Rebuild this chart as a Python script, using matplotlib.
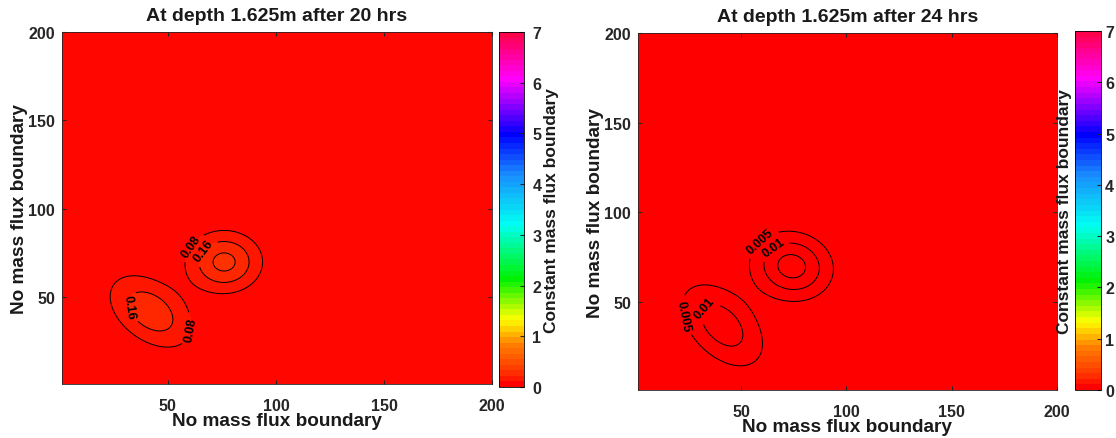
import numpy as np
import matplotlib.pyplot as plt
from matplotlib.colors import LinearSegmentedColormap, Normalize
from matplotlib.cm import ScalarMappable

plt.rcParams['font.family'] = ['Liberation Sans', 'DejaVu Sans']
plt.rcParams['font.weight'] = 'bold'

# grille 200 x 200 du domaine
n = 200
x = np.arange(1, n + 1)
X, Y = np.meshgrid(x, x)

# deux panaches : centres, amplitudes, largeurs (sx, sy) et angle (deg)
titres = ['At depth 1.625m after 20 hrs', 'At depth 1.625m after 24 hrs']
centres = [[(76, 70), (42, 42)], [(74, 70), (41, 37)]]
amplitudes = [[0.265, 0.215], [0.0172, 0.0128]]
largeurs = [[(11.5, 11.5), (16.5, 10.5)], [(13, 12), (18.5, 11)]]
angles = [[-40, -50], [-40, -55]]
niveaux = [[0.08, 0.16, 0.24], [0.005, 0.01, 0.015]]
etiquettes = [[0.08, 0.16], [0.005, 0.01]]
pos_etiquettes = [[(60.5, 79), (66.6, 76), (33.5, 45), (60.5, 32)],
                  [(59, 84), (67, 77), (24, 43), (33, 46)]]

cmax = 7
ticks_xy = [50, 100, 150, 200]


def champ(k):
    c = np.zeros_like(X, dtype=float)
    for (cx, cy), a, (sx, sy), ang in zip(centres[k], amplitudes[k],
                                          largeurs[k], angles[k]):
        t = np.deg2rad(ang)
        u = (X - cx) * np.cos(t) + (Y - cy) * np.sin(t)
        v = -(X - cx) * np.sin(t) + (Y - cy) * np.cos(t)
        c += a * np.exp(-0.5 * ((u / sx) ** 2 + (v / sy) ** 2))
    return c


# palette type "hsv" de matlab, 64 couleurs
cmap = LinearSegmentedColormap.from_list('hsv64', [
    (0.0, (1, 0, 0)), (0.25 / 7, (1, 0.2, 0)), (0.8 / 7, (1, 0.5, 0)),
    (1.3 / 7, (1, 1, 0)),
    (2.1 / 7, (0, 0.95, 0)), (3.2 / 7, (0, 1, 0.95)), (4.2 / 7, (0.1, 0.55, 1)),
    (5.0 / 7, (0, 0, 1)), (5.6 / 7, (0.55, 0, 1)), (6.1 / 7, (1, 0, 1)),
    (1.0, (1, 0, 0.3))], N=64)
cmap_fond = LinearSegmentedColormap.from_list('hsvfin', cmap(np.linspace(0, 1, 64)), N=512)
norm = Normalize(0, cmax)

fig = plt.figure(figsize=(11.16, 4.39), dpi=100)
pos_ax = [[0.0556, 0.123, 0.3853, 0.8018], [0.5717, 0.1093, 0.3754, 0.8132]]
pos_cb = [[0.4471, 0.1161, 0.0224, 0.8087], [0.9633, 0.1093, 0.0233, 0.8178]]
pad_cb = [6, 3]

for k in range(2):
    ax = fig.add_axes(pos_ax[k])
    c = champ(k)
    lv = niveaux[k]
    ax.contourf(X, Y, c, levels=[0] + lv + [c.max() + 1e-9], cmap=cmap_fond,
                norm=norm)
    cs = ax.contour(X, Y, c, levels=lv, colors='k', linewidths=0.7)
    ax.clabel(cs, levels=etiquettes[k], manual=pos_etiquettes[k],
              fontsize=9, fmt='%g', inline=True)
    ax.set_xlim(1, n)
    ax.set_ylim(1, n)
    ax.set_xticks(ticks_xy)
    ax.set_yticks(ticks_xy)
    ax.tick_params(direction='in', top=True, right=True, length=3,
                   labelsize=11.5, colors='#262626')
    ax.tick_params(axis='x', pad=10)
    ax.tick_params(axis='y', pad=5)
    for lab in ax.get_xticklabels() + ax.get_yticklabels():
        lab.set_fontweight('bold')
    for s in ax.spines.values():
        s.set_color('#262626')
        s.set_linewidth(0.6)
    ax.set_title(titres[k], fontsize=14, fontweight='bold', color='#1a1a1a', pad=9)
    ax.set_xlabel('No mass flux boundary', fontsize=13.7, fontweight='bold',
                  color='#1a1a1a', labelpad=-1)
    ax.set_ylabel('No mass flux boundary', fontsize=13.7, fontweight='bold',
                  color='#1a1a1a', labelpad=0)

    cax = fig.add_axes(pos_cb[k])
    cb = fig.colorbar(ScalarMappable(norm=norm, cmap=cmap), cax=cax,
                      ticks=range(cmax + 1))
    cb.outline.set_linewidth(0.6)
    cb.ax.tick_params(direction='in', length=3, labelsize=11.5,
                      colors='#262626', pad=pad_cb[k])
    for lab in cb.ax.get_yticklabels():
        lab.set_fontweight('bold')
    if k == 1:
        cb.ax.yaxis.set_label_position('left')
    cb.set_label('Constant mass flux boundary', fontsize=12.5, fontweight='bold',
                 color='#1a1a1a', labelpad=2)

fig.savefig('out.png', dpi=100)
